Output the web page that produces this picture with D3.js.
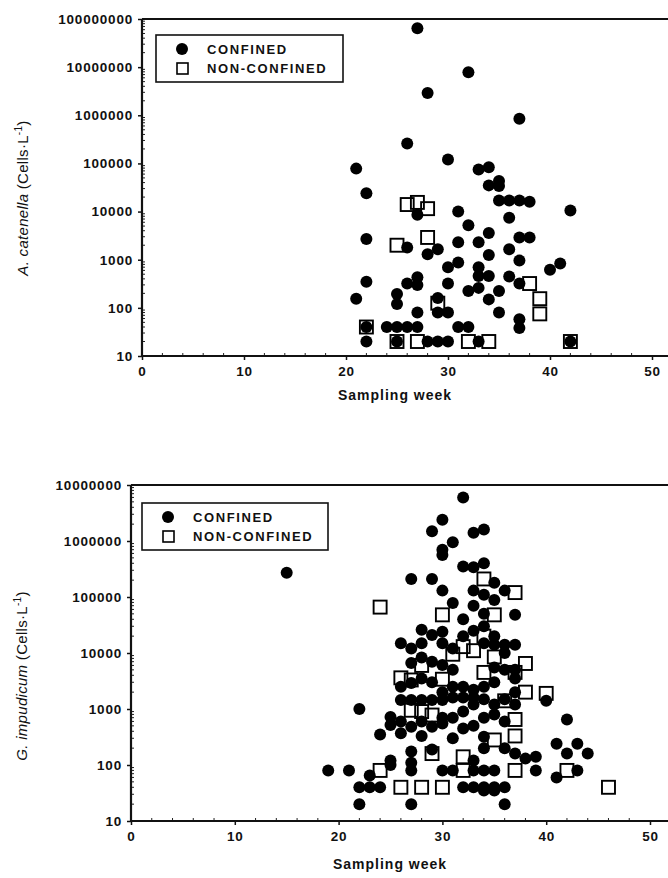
<!DOCTYPE html>
<html><head><meta charset="utf-8">
<script src="https://cdn.jsdelivr.net/npm/d3@7"></script>
<style>
body{margin:0;background:#fff}
svg{display:block}
text{font-family:"Liberation Sans",Arial,Helvetica,sans-serif;fill:#111}
</style>
</head><body>
<svg id="c" width="668" height="878"></svg>
<script>
// ---------- data ----------
const weekTicks = [0, 10, 20, 30, 40, 50];
const acatYTicks = [10, 100, 1000, 10000, 100000, 1000000, 10000000, 100000000];
const gimpYTicks = [10, 100, 1000, 10000, 100000, 1000000, 10000000];
const legendLabels = ["CONFINED", "NON-CONFINED"];
const xTitle = "Sampling week";

// A. catenella  [week, cells/L]
const acatConfined = [
  [21,78000],[21,155],[22,24000],[22,2700],[22,350],[22,40],[22,20],
  [24,40],[25,40],[25,195],[25,120],[25,20],
  [26,260000],[26,1800],[26,320],[26,40],
  [27,64000000],[27,8600],[27,430],[27,300],[27,80],[27,40],
  [28,2900000],[28,1300],[28,20],
  [29,1650],[29,160],[29,80],[29,20],
  [30,120000],[30,700],[30,320],[30,80],[30,20],
  [31,10000],[31,2300],[31,880],[31,40],
  [32,7800000],[32,5200],[32,225],[32,40],
  [33,75000],[33,2300],[33,700],[33,460],[33,260],[33,20],
  [34,83000],[34,35000],[34,3600],[34,1250],[34,460],[34,150],
  [35,43000],[35,34000],[35,17000],[35,225],[35,80],
  [36,17000],[36,7400],[36,1650],[36,450],
  [37,850000],[37,17000],[37,2900],[37,960],[37,320],[37,58],[37,38],
  [38,16000],[38,2900],
  [40,620],[41,830],
  [42,10500],[42,20]
];
const acatNonConfined = [
  [22,40],[25,2000],[25,20],[26,14000],[27,15500],[27,20],[28,11500],[28,2900],
  [29,125],[32,20],[34,20],[38,320],[39,155],[39,75],[42,20]
];

// G. impudicum  [week, cells/L]
const gimpConfined = [
  [15,270000],[19,80],[21,80],
  [22,1000],[22,40],[22,20],[23,65],[23,40],[24,350],[24,40],
  [25,720],[25,520],[25,120],[25,100],
  [26,15000],[26,2500],[26,1450],[26,600],[26,370],
  [27,210000],[27,12000],[27,6600],[27,2900],[27,1450],[27,480],[27,175],[27,110],[27,80],[27,20],
  [28,26000],[28,15000],[28,8300],[28,3500],[28,1450],[28,600],[28,330],
  [29,1500000],[29,210000],[29,21000],[29,7000],[29,3000],[29,1450],[29,480],[29,190],
  [30,2400000],[30,700000],[30,560000],[30,130000],[30,24000],[30,15000],[30,6100],[30,2000],[30,1450],[30,700],[30,550],[30,80],
  [31,950000],[31,78000],[31,12000],[31,5000],[31,2500],[31,1600],[31,700],[31,300],[31,80],
  [32,6000000],[32,350000],[32,40000],[32,20000],[32,2500],[32,1600],[32,900],[32,450],[32,40],
  [33,1400000],[33,340000],[33,130000],[33,70000],[33,25000],[33,2200],[33,1600],[33,1200],[33,500],[33,120],[33,80],[33,40],
  [34,1600000],[34,400000],[34,110000],[34,50000],[34,30000],[34,15000],[34,2500],[34,1500],[34,700],[34,320],[34,200],[34,80],[34,40],[34,35],
  [35,180000],[35,88000],[35,20000],[35,14000],[35,5500],[35,3000],[35,1200],[35,800],[35,80],[35,40],[35,35],
  [36,130000],[36,14000],[36,10000],[36,5000],[36,1500],[36,600],[36,200],[36,40],[36,20],
  [37,48000],[37,14000],[37,5000],[37,3500],[37,2000],[37,1200],[37,160],
  [38,130],[39,140],[39,80],[40,1400],[41,240],[41,60],
  [42,650],[42,160],[43,240],[43,80],[44,160]
];
const gimpNonConfined = [
  [24,66000],[24,80],[26,3600],[26,40],[27,950],[27,3300],[28,6000],[28,900],[28,40],
  [29,780],[29,160],[30,48000],[30,3400],[30,40],[31,9500],[32,13000],[32,140],[32,80],
  [33,11000],[34,210000],[34,20000],[34,4500],[35,48000],[35,8500],[35,280],[36,1400],
  [37,120000],[37,4500],[37,650],[37,330],[37,80],[38,6500],[38,2000],[40,1900],[42,80],[46,40]
];

// ---------- drawing ----------
const svg = d3.select("#c");

function drawPanel(p) {
  const g = svg.append("g");
  const x = d3.scaleLinear().domain([0, 50]).range([p.left, p.x50]);
  const y = d3.scaleLog().domain([10, p.yMax]).range([p.bottom, p.top]);

  // minor ticks (log 2..9, inward) and week ticks
  const minorY = [];
  p.yTicks.slice(0, -1).forEach(t => { for (let k = 2; k <= 9; k++) minorY.push(t * k); });
  g.append("g").selectAll("line").data(minorY).join("line")
    .attr("x1", p.left).attr("x2", p.left + 3)
    .attr("y1", d => y(d)).attr("y2", d => y(d))
    .attr("stroke", "#222").attr("stroke-width", 1);
  const minorX = d3.range(2, 52, 2).filter(v => v % 10 !== 0);
  g.append("g").selectAll("line").data(minorX).join("line")
    .attr("x1", d => x(d)).attr("x2", d => x(d))
    .attr("y1", p.bottom).attr("y2", p.bottom - 3)
    .attr("stroke", "#222").attr("stroke-width", 1);

  // axes via d3 (labels + major ticks)
  const yAxis = d3.axisLeft(y).tickValues(p.yTicks).tickFormat(d3.format("d")).tickSize(4).tickPadding(5);
  const ya = g.append("g").attr("transform", `translate(${p.left},0)`).call(yAxis);
  const xAxis = d3.axisBottom(x).tickValues(weekTicks).tickFormat(d3.format("d")).tickSize(4).tickPadding(5);
  const xa = g.append("g").attr("transform", `translate(0,${p.bottom})`).call(xAxis);
  [ya, xa].forEach(a => {
    a.select(".domain").remove();
    a.selectAll(".tick line").attr("stroke", "#111").attr("stroke-width", 1.5);
    a.selectAll(".tick text").attr("font-size", 13.5).attr("font-weight", "bold")
      .attr("letter-spacing", "0.8px").attr("fill", "#111")
      .style("font-family", '"Liberation Sans",Arial,sans-serif');
  });
  xa.selectAll(".tick text").attr("dy", "0.85em");

  // frame lines
  g.append("line").attr("x1", p.left).attr("x2", 700).attr("y1", p.top).attr("y2", p.top)
    .attr("stroke", "#111").attr("stroke-width", 1.8);
  g.append("line").attr("x1", p.left).attr("x2", 700).attr("y1", p.bottom).attr("y2", p.bottom)
    .attr("stroke", "#111").attr("stroke-width", 2.2);
  g.append("line").attr("x1", p.left).attr("x2", p.left).attr("y1", p.top).attr("y2", p.bottom)
    .attr("stroke", "#111").attr("stroke-width", 2.2);

  // markers: square fills, circles, square outlines
  const S = 13;
  g.append("g").selectAll("rect").data(p.nonConf).join("rect")
    .attr("x", d => x(d[0]) - S / 2).attr("y", d => y(d[1]) - S / 2)
    .attr("width", S).attr("height", S).attr("fill", "#fff");
  g.append("g").selectAll("circle").data(p.conf).join("circle")
    .attr("cx", d => x(d[0])).attr("cy", d => y(d[1])).attr("r", 6).attr("fill", "#000");
  g.append("g").selectAll("rect").data(p.nonConf).join("rect")
    .attr("x", d => x(d[0]) - S / 2).attr("y", d => y(d[1]) - S / 2)
    .attr("width", S).attr("height", S).attr("fill", "none")
    .attr("stroke", "#000").attr("stroke-width", 1.9);

  // legend
  const L = p.legend;
  g.append("rect").attr("x", L.x).attr("y", L.y).attr("width", L.w).attr("height", L.h)
    .attr("fill", "#fff").attr("stroke", "#111").attr("stroke-width", 1.6);
  g.append("circle").attr("cx", L.x + 26).attr("cy", L.y + 14).attr("r", 6).attr("fill", "#000");
  g.append("rect").attr("x", L.x + 21).attr("y", L.y + 28).attr("width", 11).attr("height", 11)
    .attr("fill", "none").attr("stroke", "#000").attr("stroke-width", 1.6);
  legendLabels.forEach((t, i) => {
    g.append("text").attr("x", L.x + 51).attr("y", L.y + 19 + i * 19)
      .attr("font-size", 13).attr("letter-spacing", "1.6px").attr("font-weight", "bold").text(t);
  });

  // y title
  const yt = g.append("text")
    .attr("transform", `translate(${p.yTitleX},${p.yTitleY}) rotate(-90)`)
    .attr("text-anchor", "middle").attr("font-size", 15).attr("letter-spacing", "0.3px");
  yt.append("tspan").attr("font-style", "italic").text(p.species + " ");
  yt.append("tspan").text("(Cells·L");
  yt.append("tspan").attr("font-size", 10).attr("dy", -6).text("-1");
  yt.append("tspan").attr("dy", 6).text(")");

  // x title
  g.append("text").attr("x", p.xTitleX).attr("y", p.xTitleY).attr("text-anchor", "middle")
    .attr("font-size", 14).attr("font-weight", "bold").attr("letter-spacing", "1px").text(xTitle);
}

drawPanel({
  left: 142, x50: 652, top: 19, bottom: 356, yMax: 1e8, yTicks: acatYTicks,
  conf: acatConfined, nonConf: acatNonConfined,
  legend: { x: 156, y: 35, w: 187, h: 47 },
  species: "A. catenella", yTitleX: 28, yTitleY: 198,
  xTitleX: 395, xTitleY: 400
});
drawPanel({
  left: 131, x50: 650, top: 485, bottom: 821, yMax: 1e7, yTicks: gimpYTicks,
  conf: gimpConfined, nonConf: gimpNonConfined,
  legend: { x: 142, y: 503, w: 186, h: 47 },
  species: "G. impudicum", yTitleX: 27, yTitleY: 676,
  xTitleX: 390, xTitleY: 869
});
</script>
</body></html>
